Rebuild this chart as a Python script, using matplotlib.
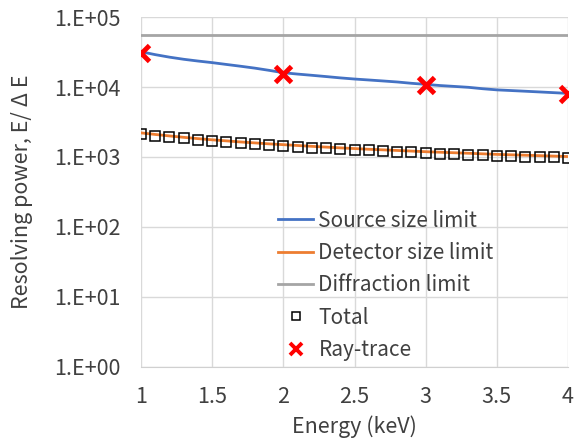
import math
import matplotlib
matplotlib.use("Agg")
import matplotlib.pyplot as plt
from matplotlib.ticker import FixedLocator, FuncFormatter

plt.rcParams['font.family'] = ['Noto Sans CJK JP', 'DejaVu Sans']

energy = [1.0, 1.1, 1.2, 1.3, 1.4, 1.5, 1.6, 1.7, 1.8, 1.9, 2.0,
          2.1, 2.2, 2.3, 2.4, 2.5, 2.6, 2.7, 2.8, 2.9, 3.0,
          3.1, 3.2, 3.3, 3.4, 3.5, 3.6, 3.7, 3.8, 3.9, 4.0]
source = [31900, 29000, 26700, 24900, 23500, 22300, 21000, 19800, 18600, 17300, 16000,
          15300, 14700, 14100, 13500, 13000, 12600, 12200, 11800, 11300, 10900,
          10500, 10200, 9900, 9450, 9100, 8900, 8700, 8500, 8300, 8100]
detector = [2210, 2100, 2000, 1910, 1830, 1760, 1700, 1640, 1590, 1540, 1500,
            1460, 1420, 1385, 1350, 1320, 1290, 1265, 1240, 1215, 1190,
            1170, 1150, 1130, 1110, 1090, 1075, 1060, 1045, 1030, 1015]
diffraction = [55000] * len(energy)
total = [2130, 2020, 1920, 1840, 1760, 1690, 1630, 1580, 1530, 1480, 1440,
         1400, 1360, 1330, 1300, 1270, 1240, 1210, 1190, 1165, 1140,
         1120, 1100, 1080, 1065, 1045, 1030, 1015, 1000, 985, 970]
ray_e = [1, 2, 3, 4]
ray = [30500, 15300, 10600, 7950]

fs = 15.5
txt = '#404040'

fig = plt.figure(figsize=(5.74, 4.43), dpi=100)
ax = fig.add_axes([0.2456, 0.1716, 0.744, 0.79])

ax.plot(energy, source, color='#4472C4', lw=2, label='Source size limit', zorder=3)
ax.plot(energy, detector, color='#ED7D31', lw=2, label='Detector size limit', zorder=3)
ax.plot(energy, diffraction, color='#A5A5A5', lw=2, label='Diffraction limit', zorder=3)
ax.plot(energy, total, ls='none', marker='s', ms=7, mfc='none', mec='black',
        mew=1.1, label='Total', zorder=4)
ax.plot(ray_e, ray, ls='none', marker='x', ms=11, mew=3.5, color='#FF0000',
        label='Ray-trace', zorder=5)

ax.set_yscale('log')
ax.set_ylim(1, 1e5)
ax.set_xlim(1, 4)
ax.xaxis.set_major_locator(FixedLocator([1, 1.5, 2, 2.5, 3, 3.5, 4]))
ax.xaxis.set_major_formatter(FuncFormatter(lambda v, p: '%g' % v))
ax.yaxis.set_major_locator(FixedLocator([1, 10, 100, 1e3, 1e4, 1e5]))
ax.yaxis.set_minor_locator(FixedLocator([]))
ax.yaxis.set_major_formatter(FuncFormatter(lambda v, p: '1.E+%02d' % round(math.log10(v))))

ax.grid(True, color='#d9d9d9', lw=1)
ax.set_axisbelow(True)
for s in ['top', 'right', 'left']:
    ax.spines[s].set_visible(False)
ax.spines['bottom'].set_color('#d0d0d0')
ax.tick_params(length=0, labelsize=fs, colors=txt)
ax.tick_params(axis='y', pad=15)
ax.tick_params(axis='x', pad=14)

ax.set_xlabel('Energy (keV)', fontsize=fs, color=txt, labelpad=5)
ax.set_ylabel('Resolving power, E/ Δ E', fontsize=fs, color=txt, labelpad=15)

leg = ax.legend(loc='upper left', bbox_to_anchor=(0.484, 0.527), bbox_transform=fig.transFigure,
                frameon=False, fontsize=15, handlelength=1.7, handletextpad=0.25,
                labelspacing=0.5, borderaxespad=0, borderpad=0)
for t in leg.get_texts():
    t.set_color(txt)
# smaller markers in the legend, like the original
leg.legend_handles[3].set_markersize(6)
leg.legend_handles[4].set_markersize(8)
leg.legend_handles[4].set_markeredgewidth(2.8)

fig.savefig('out.png', dpi=100)
